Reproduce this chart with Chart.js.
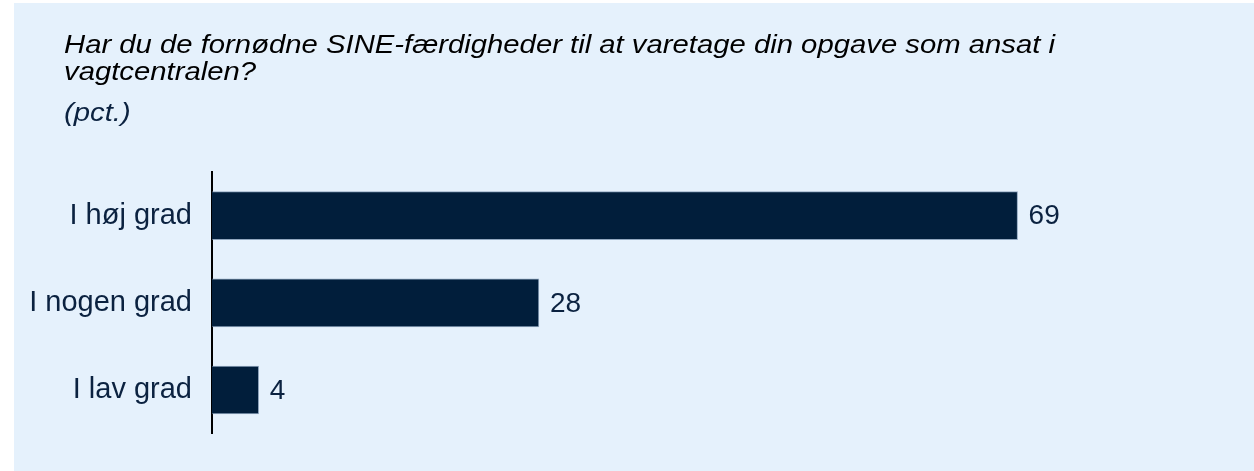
<!DOCTYPE html>
<html>
<head>
<meta charset="utf-8">
<script src="https://cdn.jsdelivr.net/npm/chart.js@4/dist/chart.umd.min.js"></script>
<style>
  html, body { margin: 0; padding: 0; background: #ffffff; }
  #wrap { width: 1254px; height: 471px; position: relative; }
</style>
</head>
<body>
<div id="wrap"><canvas id="chart" width="1254" height="471"></canvas></div>
<script>
// Données
const categories = ['I høj grad', 'I nogen grad', 'I lav grad'];
const values = [69, 28, 4];
const titleLines = ['Har du de fornødne SINE-færdigheder til at varetage din opgave som ansat i', 'vagtcentralen?'];
const subtitleText = '(pct.)';

const navy = '#011e3b';
const textNavy = '#0b2240';

// Fond bleu clair + titre en italique (texte un peu élargi comme l'original)
const backgroundAndTitle = {
    id: 'backgroundAndTitle',
    beforeDraw(chart) {
        const ctx = chart.ctx;
        ctx.save();
        ctx.fillStyle = '#e5f1fc';
        ctx.fillRect(14, 3, chart.width - 14, chart.height - 3);
        ctx.textAlign = 'left';
        ctx.textBaseline = 'alphabetic';
        ctx.font = 'italic 25.5px "Liberation Sans", Arial, sans-serif';
        ctx.translate(64, 0);
        ctx.scale(1.148, 1);
        ctx.fillStyle = '#000000';
        titleLines.forEach((line, i) => ctx.fillText(line, 0, 53 + i * 26.5));
        ctx.fillStyle = textNavy;
        ctx.fillText(subtitleText, 0, 121);
        ctx.restore();
    }
};

// Valeurs affichées au bout des barres
const valueLabels = {
    id: 'valueLabels',
    afterDatasetsDraw(chart) {
        const ctx = chart.ctx;
        const meta = chart.getDatasetMeta(0);
        ctx.save();
        ctx.font = '28px "Liberation Sans", Arial, sans-serif';
        ctx.fillStyle = textNavy;
        ctx.textAlign = 'left';
        ctx.textBaseline = 'middle';
        meta.data.forEach((bar, i) => {
            ctx.fillText(String(values[i]), bar.x + 11, bar.y + 1);
        });
        ctx.restore();
    }
};

new Chart(document.getElementById('chart').getContext('2d'), {
    type: 'bar',
    data: {
        labels: categories,
        datasets: [{
            data: values,
            backgroundColor: navy,
            borderColor: 'rgba(110,135,165,0.7)',
            borderWidth: 1,
            borderSkipped: 'left',
            barThickness: 48
        }]
    },
    options: {
        indexAxis: 'y',
        responsive: false,
        animation: false,
        events: [],
        layout: { padding: { top: 172, right: 108, bottom: 37, left: 0 } },
        plugins: {
            legend: { display: false },
            tooltip: { enabled: false }
        },
        scales: {
            x: { display: false, min: 0, max: 80 },
            y: {
                afterFit(scale) { scale.width = 212; },
                grid: { display: false, drawTicks: false },
                border: { display: true, color: '#000000', width: 2 },
                ticks: {
                    padding: 20,
                    color: textNavy,
                    font: { family: '"Liberation Sans", Arial, sans-serif', size: 29 }
                }
            }
        }
    },
    plugins: [backgroundAndTitle, valueLabels]
});
</script>
</body>
</html>
